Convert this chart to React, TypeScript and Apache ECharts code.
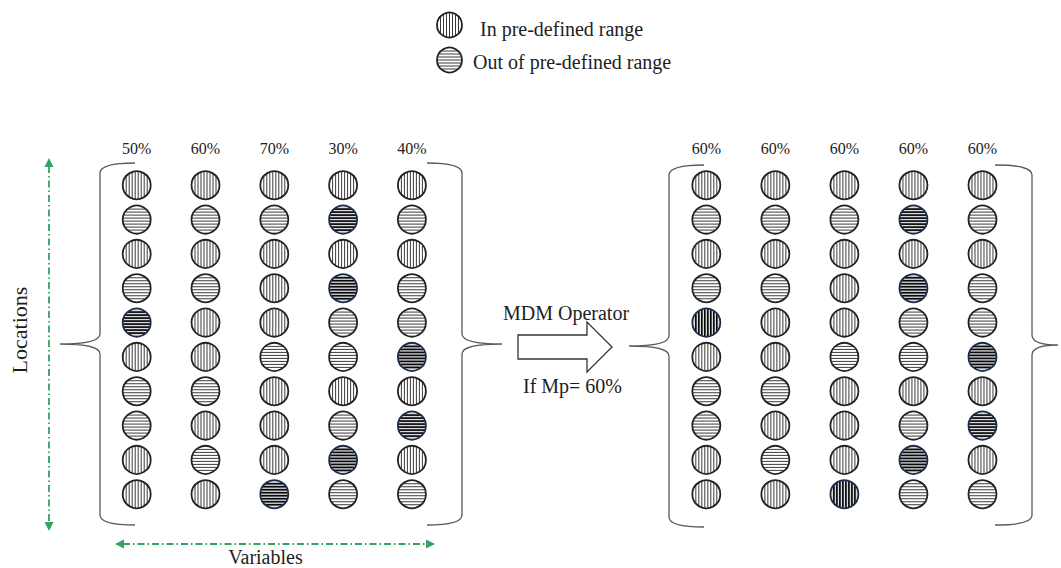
import React, { useEffect, useRef } from "react";
import * as echarts from "echarts";

const FONT = "'Liberation Serif', 'Times New Roman', serif";

// Column headers (share of locations inside the pre-defined range)
const leftPercent = ["50%", "60%", "70%", "30%", "40%"];
const rightPercent = ["60%", "60%", "60%", "60%", "60%"];
const rowNames = ["1", "2", "3", "4", "5", "6", "7", "8", "9", "10"];

// V = in pre-defined range, H = out of range; lowercase = highlighted (dark) cell
const leftMatrix = [
  ["V", "V", "V", "V", "V"],
  ["H", "H", "H", "h", "H"],
  ["V", "V", "V", "V", "V"],
  ["H", "H", "V", "h", "H"],
  ["h", "V", "V", "H", "H"],
  ["V", "V", "H", "H", "h"],
  ["H", "H", "V", "V", "V"],
  ["H", "V", "V", "H", "h"],
  ["V", "H", "V", "h", "V"],
  ["V", "V", "h", "H", "H"],
];
const rightMatrix = [
  ["V", "V", "V", "V", "V"],
  ["H", "H", "H", "h", "H"],
  ["V", "V", "V", "V", "V"],
  ["H", "H", "V", "h", "H"],
  ["v", "V", "V", "H", "H"],
  ["V", "V", "H", "H", "h"],
  ["H", "H", "V", "V", "V"],
  ["H", "V", "V", "H", "h"],
  ["V", "H", "V", "h", "V"],
  ["V", "V", "v", "H", "H"],
];

const CODE: Record<string, number> = { V: 0, H: 1, v: 2, h: 3 };

function toCells(m: string[][]) {
  const out: number[][] = [];
  m.forEach((row, r) => row.forEach((s, c) => out.push([c, r, CODE[s]])));
  return out;
}

function hatch(cx: number, cy: number, r: number, vertical: boolean, dark: boolean) {
  const els: any[] = [];
  els.push({ type: "circle", shape: { cx, cy, r }, style: { fill: dark ? "#d8dae0" : "#ffffff" } });
  const step = 3;
  const n = Math.round((2 * r - 6) / step) + 1;
  const start = (-(n - 1) * step) / 2;
  for (let i = 0; i < n; i++) {
    const d = start + i * step;
    const half = Math.sqrt(r * r - d * d) - 0.5;
    const shape = vertical
      ? { x1: cx + d, y1: cy - half, x2: cx + d, y2: cy + half }
      : { x1: cx - half, y1: cy + d, x2: cx + half, y2: cy + d };
    els.push({
      type: "line",
      shape,
      style: { stroke: dark ? "#0a0a0a" : "#3c3c3c", lineWidth: dark ? 1.7 : 1 },
    });
  }
  els.push({
    type: "circle",
    shape: { cx, cy, r },
    style: { fill: "none", stroke: dark ? "#1b2a48" : "#222222", lineWidth: 1.8 },
  });
  return els;
}

function renderCell(_params: any, api: any) {
  const t = api.value(2);
  const p = api.coord([api.value(0), api.value(1)]);
  return { type: "group", children: hatch(p[0], p[1], 14, t === 0 || t === 2, t >= 2) };
}

function bracePath(tip: number, hook: number, h: number) {
  const m = h / 2;
  return `M${hook} 0 Q0 0 0 10 L0 ${m - 10} Q0 ${m} ${-tip} ${m} Q0 ${m} 0 ${m + 10} L0 ${h - 10} Q0 ${h} ${hook} ${h}`;
}
echarts.graphic.registerShape("braceA", echarts.graphic.extendPath(bracePath(40, 35, 362), {}) as any);
echarts.graphic.registerShape("braceB", echarts.graphic.extendPath(bracePath(26, 37, 360), {}) as any);

const GREEN = "#35a163";

function txt(text: string, x: number, y: number, size: number, extra: any = {}) {
  return {
    type: "text",
    x,
    y,
    ...extra,
    style: {
      text,
      fontFamily: FONT,
      fontSize: size,
      fill: "#1e1e1e",
      align: extra.align || "center",
      verticalAlign: "middle",
      textAlign: extra.align || "center",
      textVerticalAlign: "middle",
    },
  };
}

function xAxisCfg(gridIndex: number, data: string[]) {
  return {
    gridIndex,
    type: "category",
    data,
    position: "top",
    axisLine: { show: false },
    axisTick: { show: false },
    splitLine: { show: false },
    axisLabel: { interval: 0, fontFamily: FONT, fontSize: 16, color: "#222", margin: 12 },
  };
}
function yAxisCfg(gridIndex: number) {
  return { gridIndex, type: "category", data: rowNames, inverse: true, show: false };
}

export default function App() {
  const ref = useRef<HTMLDivElement>(null);
  useEffect(() => {
    if (!ref.current) return;
    const chart = echarts.init(ref.current, undefined, { renderer: "svg" });
    const braceStyle = { fill: "none", stroke: "#5a5a5a", lineWidth: 1.3 };
    const graphic: any[] = [
      // legend
      { type: "group", children: hatch(449.5, 25, 12.5, true, false) },
      { type: "group", children: hatch(449.5, 60, 12.5, false, false) },
      txt("In pre-defined range", 480, 29, 20, { align: "left" }),
      txt("Out of pre-defined range", 473, 62, 20, { align: "left" }),
      // braces
      { type: "braceA", x: 100, y: 163, style: braceStyle },
      { type: "braceA", x: 462, y: 163, scaleX: -1, style: braceStyle },
      { type: "braceA", x: 669, y: 165, style: braceStyle },
      { type: "braceB", x: 1032, y: 165, scaleX: -1, style: braceStyle },
      // block arrow
      {
        type: "polygon",
        shape: { points: [[518, 335], [587, 335], [587, 322], [612, 347], [587, 372], [587, 359], [518, 359]] },
        style: { fill: "#fff", stroke: "#333", lineWidth: 1.3 },
      },
      txt("MDM Operator", 566, 312.5, 20),
      txt("If Mp= 60%", 572.5, 385.5, 20),
      // green axes
      {
        type: "line",
        shape: { x1: 49, y1: 166, x2: 49, y2: 523 },
        style: { stroke: GREEN, lineWidth: 1.8, lineDash: [7, 3, 1.5, 3] },
      },
      { type: "polygon", shape: { points: [[49, 158], [44.5, 167], [53.5, 167]] }, style: { fill: GREEN } },
      { type: "polygon", shape: { points: [[49, 531], [44.5, 522], [53.5, 522]] }, style: { fill: GREEN } },
      {
        type: "line",
        shape: { x1: 123, y1: 544, x2: 427, y2: 544 },
        style: { stroke: GREEN, lineWidth: 1.8, lineDash: [7, 3, 1.5, 3] },
      },
      { type: "polygon", shape: { points: [[115, 544], [124, 539.5], [124, 548.5]] }, style: { fill: GREEN } },
      { type: "polygon", shape: { points: [[435, 544], [426, 539.5], [426, 548.5]] }, style: { fill: GREEN } },
      txt("Locations", 19, 330, 22, { rotation: Math.PI / 2 }),
      txt("Variables", 265.5, 556.5, 20),
    ];
    chart.setOption({
      animation: false,
      backgroundColor: "#ffffff",
      grid: [
        { left: 102.3, top: 168.1, width: 344, height: 343.3 },
        { left: 671.8, top: 168.1, width: 345.2, height: 343.3 },
      ],
      xAxis: [xAxisCfg(0, leftPercent), xAxisCfg(1, rightPercent)],
      yAxis: [yAxisCfg(0), yAxisCfg(1)],
      series: [
        { type: "custom", xAxisIndex: 0, yAxisIndex: 0, data: toCells(leftMatrix), renderItem: renderCell, clip: false, silent: true },
        { type: "custom", xAxisIndex: 1, yAxisIndex: 1, data: toCells(rightMatrix), renderItem: renderCell, clip: false, silent: true },
      ],
      graphic,
    });
    return () => chart.dispose();
  }, []);
  return (
    <div
      ref={ref}
      style={{ position: "absolute", left: 0, top: 0, width: "1061px", height: "568px", background: "#fff" }}
    />
  );
}
